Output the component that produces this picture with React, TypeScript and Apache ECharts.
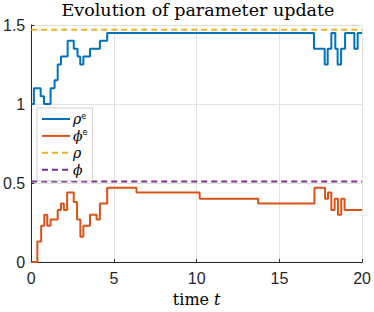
import React, { useEffect, useRef } from "react";
import * as echarts from "echarts";

const rhoETimes = [0, 0.16, 0.57, 0.77, 1.17, 1.41, 1.6, 1.8, 2.2, 2.57, 2.8, 2.96, 3.15, 3.55, 4.15, 4.59, 17.09, 17.74, 17.92, 18.14, 18.38, 18.52, 18.73, 18.97, 19.53, 19.73];
const rhoEValues = [1.0, 1.1, 1.05, 1.0, 1.1, 1.15, 1.25, 1.3, 1.4, 1.35, 1.3, 1.25, 1.3, 1.35, 1.4, 1.45, 1.35, 1.25, 1.35, 1.45, 1.35, 1.25, 1.35, 1.45, 1.35, 1.45];

const phiETimes = [0, 0.37, 0.6, 0.79, 0.97, 1.17, 1.6, 1.8, 1.97, 2.17, 2.57, 2.77, 2.97, 3.15, 3.55, 3.95, 4.15, 4.59, 6.36, 10.18, 13.72, 17.12, 17.76, 17.94, 18.14, 18.34, 18.54, 18.74, 18.94];
const phiEValues = [0, 0.13, 0.23, 0.3, 0.23, 0.27, 0.33, 0.37, 0.33, 0.44, 0.38, 0.27, 0.16, 0.23, 0.3, 0.27, 0.37, 0.47, 0.44, 0.4, 0.37, 0.47, 0.4, 0.44, 0.33, 0.4, 0.3, 0.4, 0.33];

const rhoTrue = 1.47;
const phiTrue = 0.51;
const tEnd = 20;

const xTicks = [0, 5, 10, 15, 20];
const yTicks = [0, 0.5, 1, 1.5];

const seriesNames = ["rhoE", "phiE", "rho", "phi"];
const legendLabels: Record<string, string> = {
  rhoE: "{i|ρ}{s|e}",
  phiE: "{i|ϕ}{s|e}",
  rho: "{i|ρ}",
  phi: "{i|ϕ}",
};

function stepData(ts: number[], vs: number[]) {
  const d = ts.map((t, i) => [t, vs[i]]);
  d.push([tEnd, vs[vs.length - 1]]);
  return d;
}

export default function App() {
  const ref = useRef<HTMLDivElement>(null);
  useEffect(() => {
    if (!ref.current) return;
    const chart = echarts.init(ref.current, undefined, { renderer: "svg" });
    const axisColor = "#262626";
    const gridColor = "#e3e3e3";
    chart.setOption({
      animation: false,
      title: {
        text: "Evolution of parameter update",
        left: 198,
        top: 0,
        padding: [0, 0, 0, 0],
        textAlign: "center",
        textStyle: {
          fontFamily: "DejaVu Serif",
          fontWeight: "normal",
          fontSize: 17.5,
          lineHeight: 20,
          color: "#000",
        },
      },
      grid: { left: 31, right: 9, top: 25, bottom: 45, containLabel: false },
      legend: {
        data: seriesNames,
        orient: "vertical",
        left: 37,
        top: 108,
        padding: [4, 5, 4, 4],
        itemWidth: 28,
        itemHeight: 10,
        itemGap: 2.9,
        itemStyle: { opacity: 0 },
        backgroundColor: "#fff",
        borderColor: "#cfcfcf",
        borderWidth: 1,
        borderRadius: 0,
        formatter: (name: string) => legendLabels[name],
        textStyle: {
          padding: [0, 0, 0, -2],
          rich: {
            i: { fontFamily: "DejaVu Serif", fontStyle: "italic", fontSize: 14, lineHeight: 14, color: "#000" },
            s: { fontFamily: "DejaVu Sans", fontSize: 8, lineHeight: 14, color: "#000", verticalAlign: "top", padding: [0, 0, 6, 0] },
          },
        },
      },
      xAxis: {
        type: "value",
        min: xTicks[0],
        max: xTicks[xTicks.length - 1],
        interval: 5,
        name: "time {i|t}",
        nameLocation: "middle",
        nameGap: 28,
        nameTextStyle: {
          fontFamily: "DejaVu Serif",
          fontSize: 16,
          color: "#000",
          rich: { i: { fontFamily: "DejaVu Serif", fontStyle: "italic", fontSize: 16, color: "#000" } },
        },
        axisLine: { show: true, lineStyle: { color: axisColor, width: 1 } },
        axisTick: { show: true, inside: true, length: 3, lineStyle: { color: axisColor } },
        axisLabel: { fontFamily: "Liberation Sans", fontSize: 16, color: "#262626", margin: 8 },
        splitLine: { show: true, lineStyle: { color: gridColor, width: 1 } },
      },
      yAxis: {
        type: "value",
        min: yTicks[0],
        max: yTicks[yTicks.length - 1],
        interval: 0.5,
        axisLine: { show: true, lineStyle: { color: axisColor, width: 1 } },
        axisTick: { show: true, inside: true, length: 3, lineStyle: { color: axisColor } },
        axisLabel: { fontFamily: "Liberation Sans", fontSize: 16, color: "#262626", margin: 6 },
        splitLine: { show: true, lineStyle: { color: gridColor, width: 1 } },
      },
      series: [
        {
          name: "rhoE",
          type: "line",
          step: "end",
          symbol: "none",
          data: stepData(rhoETimes, rhoEValues),
          lineStyle: { color: "#0072BD", width: 2 },
          itemStyle: { color: "#0072BD" },
          z: 4,
        },
        {
          name: "phiE",
          type: "line",
          step: "end",
          symbol: "none",
          data: stepData(phiETimes, phiEValues),
          lineStyle: { color: "#D95319", width: 2 },
          itemStyle: { color: "#D95319" },
          z: 4,
        },
        {
          name: "rho",
          type: "line",
          symbol: "none",
          data: [[0, rhoTrue], [tEnd, rhoTrue]],
          lineStyle: { color: "#EDB120", width: 2, type: [6, 4] },
          itemStyle: { color: "#EDB120" },
          z: 3,
        },
        {
          name: "phi",
          type: "line",
          symbol: "none",
          data: [[0, phiTrue], [tEnd, phiTrue]],
          lineStyle: { color: "#7E2F8E", width: 2, type: [6, 4] },
          itemStyle: { color: "#7E2F8E" },
          z: 3,
        },
      ],
    });
    return () => chart.dispose();
  }, []);
  return (
    <div
      ref={ref}
      style={{ position: "absolute", left: 0, top: 0, width: 374, height: 312, background: "#fff" }}
    />
  );
}
